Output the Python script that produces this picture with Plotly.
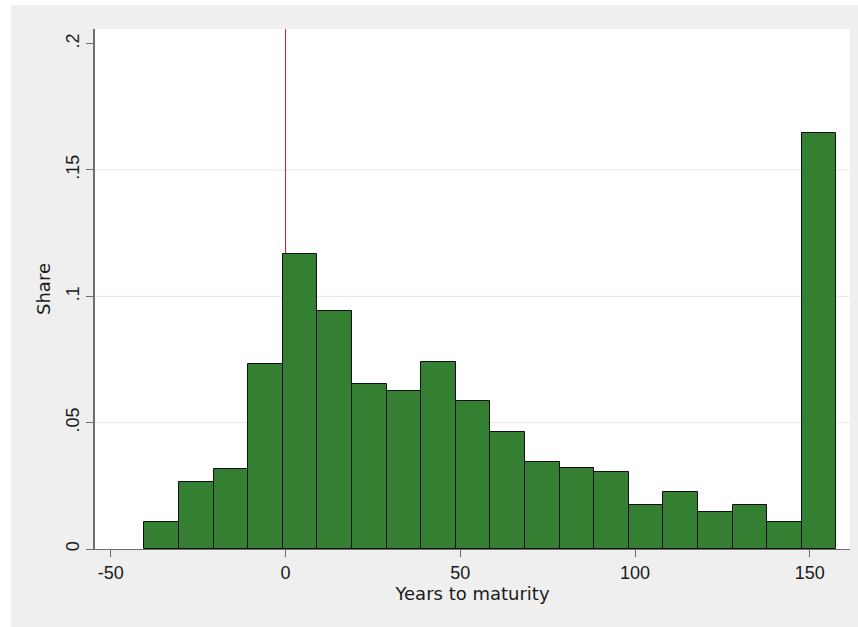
import plotly.graph_objects as go

# ---- data ----
bin_start = -40.4
bin_width = 9.9
shares = [0.0107, 0.0265, 0.0318, 0.0731, 0.1166, 0.0942, 0.0652, 0.0624,
          0.0741, 0.0584, 0.0464, 0.0346, 0.0319, 0.0306, 0.0173, 0.0226,
          0.0146, 0.0173, 0.0107, 0.1645]
x_tick_vals = [-50, 0, 50, 100, 150]
x_tick_text = ["-50", "0", "50", "100", "150"]
y_tick_vals = [0, 0.05, 0.1, 0.15, 0.2]
y_tick_text = ["0", ".05", ".1", ".15", ".2"]
ref_line_x = 0

centers = [bin_start + bin_width * (i + 0.5) for i in range(len(shares))]

TICKFONT = "Liberation Sans, Arial, sans-serif"
TITLEFONT = "DejaVu Sans, sans-serif"
BAR = "#357f33"
AXIS = "#6e6e6e"

fig = go.Figure()
fig.add_trace(go.Bar(
    x=centers, y=shares, width=[bin_width] * len(shares),
    marker=dict(color=BAR, line=dict(color="#101010", width=1)),
    hoverinfo="x+y", showlegend=False,
))

shapes = []
# horizontal gridlines (inner ticks only)
for v in y_tick_vals[1:-1]:
    shapes.append(dict(type="line", xref="paper", x0=0, x1=1, yref="y", y0=v, y1=v,
                       line=dict(color="#e6e6e6", width=1), layer="below"))
# reference line at x = 0
shapes.append(dict(type="line", xref="x", x0=ref_line_x, x1=ref_line_x, yref="paper", y0=0, y1=1,
                   line=dict(color="#a82424", width=1), layer="below"))
# white strips on top and left outside the gray frame
shapes.append(dict(type="rect", xref="paper", yref="paper", x0=-0.2, x1=1.2, y0=1.0462, y1=1.2,
                   fillcolor="white", line=dict(width=0), layer="below"))
shapes.append(dict(type="rect", xref="paper", yref="paper", x0=-0.2, x1=-0.1113, y0=-0.3, y1=1.2,
                   fillcolor="white", line=dict(width=0), layer="below"))

fig.update_layout(
    width=858, height=627, autosize=False,
    margin=dict(l=95, r=8, t=29, b=78),
    paper_bgcolor="#efefef", plot_bgcolor="white",
    font=dict(family=TICKFONT, size=18, color="#1a1a1a"),
    bargap=0,
    shapes=shapes,
    xaxis=dict(
        range=[-54.53, 161.49], tickvals=x_tick_vals, ticktext=x_tick_text,
        showgrid=False, zeroline=False, showline=True, linecolor=AXIS, linewidth=1,
        ticks="outside", ticklen=7, tickcolor=AXIS, tickwidth=1,
        tickfont=dict(family=TICKFONT, size=18),
        title=dict(text="Years to maturity", font=dict(family=TITLEFONT, size=18), standoff=2),
    ),
    yaxis=dict(
        range=[0, 0.2058], tickvals=y_tick_vals, ticktext=y_tick_text,
        showgrid=False, zeroline=False, showline=True, linecolor=AXIS, linewidth=1.5,
        ticks="outside", ticklen=7, tickcolor=AXIS, tickwidth=1,
        tickangle=-90, tickfont=dict(family=TICKFONT, size=18),
        title=dict(text="Share", font=dict(family=TITLEFONT, size=18), standoff=8),
    ),
)

fig.write_html("out.html")
